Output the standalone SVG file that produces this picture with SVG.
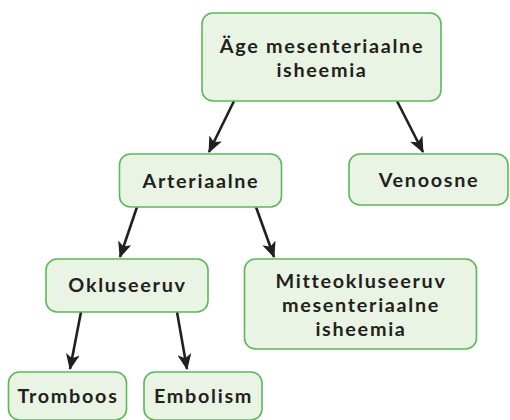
<svg xmlns="http://www.w3.org/2000/svg" width="510" height="420" viewBox="0 0 510 420">
<defs>
<style>
.box{fill:#e9f4e4;stroke:#5bb85a;stroke-width:1.6}
.t{font-family:Lato,"Open Sans","Liberation Sans",sans-serif;font-weight:bold;font-size:19.8px;letter-spacing:1.7px;fill:#231f20;text-anchor:middle}
.c{stroke:#231f20;stroke-width:2.6;fill:none;marker-end:url(#ah)}
</style>
<marker id="ah" markerUnits="userSpaceOnUse" markerWidth="16" markerHeight="14" viewBox="0 0 16 14" refX="15" refY="7" orient="auto">
<path d="M0,0 L16,7 L0,14 L4,7 z" fill="#231f20"/>
</marker>
</defs>
<g id="connectors">
<line class="c" x1="234" y1="101" x2="209" y2="152"/>
<line class="c" x1="397" y1="101" x2="423" y2="152"/>
<line class="c" x1="137" y1="207" x2="120" y2="257"/>
<line class="c" x1="256" y1="207" x2="274" y2="257"/>
<line class="c" x1="81" y1="312" x2="70" y2="369"/>
<line class="c" x1="177" y1="312" x2="187" y2="369"/>
</g>
<g id="n-age">
<rect class="box" x="202" y="13" width="239" height="88" rx="11"/>
<text class="t" x="322" y="53">Äge mesenteriaalne</text>
<text class="t" x="322" y="77">isheemia</text>
</g>
<g id="n-arteriaalne">
<rect class="box" x="119.5" y="154" width="162" height="53" rx="11"/>
<text class="t" x="201" y="188">Arteriaalne</text>
</g>
<g id="n-venoosne">
<rect class="box" x="349" y="154" width="159" height="51" rx="11"/>
<text class="t" x="429" y="187">Venoosne</text>
</g>
<g id="n-okluseeruv">
<rect class="box" x="46" y="259" width="162" height="53" rx="11"/>
<text class="t" x="127.5" y="292">Okluseeruv</text>
</g>
<g id="n-mitteokluseeruv">
<rect class="box" x="244.5" y="259" width="232" height="90" rx="11"/>
<text class="t" x="361" y="288">Mitteokluseeruv</text>
<text class="t" x="361" y="312">mesenteriaalne</text>
<text class="t" x="361" y="336">isheemia</text>
</g>
<g id="n-tromboos">
<rect class="box" x="8.5" y="372" width="118" height="48" rx="11"/>
<text class="t" x="68" y="403">Tromboos</text>
</g>
<g id="n-embolism">
<rect class="box" x="144" y="372" width="118" height="48" rx="11"/>
<text class="t" x="203.5" y="403">Embolism</text>
</g>
</svg>
